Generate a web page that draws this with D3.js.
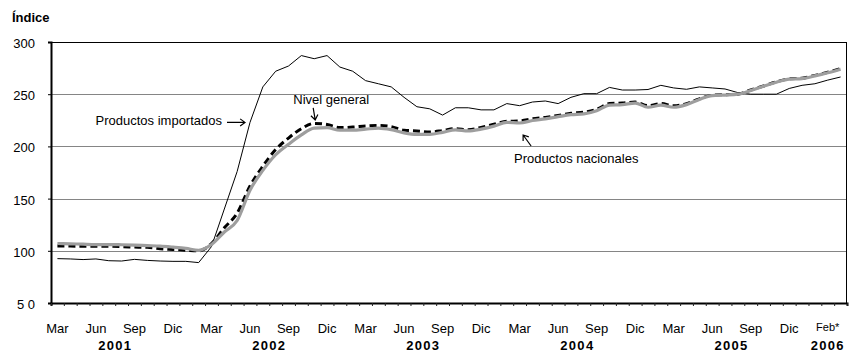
<!DOCTYPE html>
<html>
<head>
<meta charset="utf-8">
<script src="https://cdn.jsdelivr.net/npm/d3@7"></script>
<style>
  html, body { margin: 0; padding: 0; background: #fff; }
  svg { display: block; font-family: "Liberation Sans", Arial, sans-serif; }
</style>
</head>
<body>
<svg id="chart" width="849" height="354"></svg>
<script>
// Monthly observations (62 points)
const months = d3.range(62);

// Índice de precios: productos importados
const importados = [
  92.5, 92.2, 91.6, 92.2, 90.5, 90.2, 91.8, 90.8, 90.2, 89.9, 89.9, 88.7,
  104, 140, 176, 223, 257, 272, 277, 287, 284, 287, 276, 272,
  263, 260, 257, 247, 238, 236, 230, 237, 237, 235, 235, 241,
  239, 242.5, 243.5, 241, 247, 250.5, 250.5, 256.5, 254, 254, 254.5, 258.5,
  256, 254.7, 257, 256, 255, 251.5, 250, 250, 250, 255.5, 258.5, 260,
  263.5, 266.5
];

// Índice de precios: nivel general
const nivelGeneral = [
  104.6, 104.5, 104.4, 104.3, 104.3, 104, 103.6, 103.3, 102, 101.3, 100.6, 99.9,
  107, 122, 136, 162, 181, 197, 208, 217, 222, 221, 218, 218.5,
  219.5, 220, 219, 215.5, 214.8, 213.8, 215.2, 217, 216, 218.2, 221.2, 224,
  224.4, 226.4, 227.8, 229.6, 231.7, 232.8, 235.5, 241, 241.5, 242.5, 239, 241,
  239, 241, 245.5, 249, 249.5, 250, 254, 257.8, 261.8, 264.7, 265.3, 268,
  271, 274.5
];

// Índice de precios: productos nacionales
const nacionales = [
  107, 106.7, 106.3, 106, 106, 105.8, 105.5, 105, 104.5, 103.5, 102.3, 100.5,
  106, 118, 129, 158, 177, 192, 202, 211, 217.5, 218, 215.5, 215.5,
  216.5, 217.5, 216, 213, 211.5, 211.6, 213.5, 215.8, 214.8, 216.6, 219.4, 223,
  222.4, 224.8, 226.4, 228.5, 230.4, 231.2, 234.2, 239.5, 240, 241.5, 237.5, 239.5,
  237.5, 240, 245, 248.7, 249.2, 250, 253.5, 257.6, 261.5, 264.5, 265, 267.5,
  270.5, 274
];

// Axis labels
const yTicks = [50, 100, 150, 200, 250, 300];
const yTickLabels = ["5 0", "100", "150", "200", "250", "300"];
const tickMonths = [
  "Mar", "Jun", "Sep", "Dic",
  "Mar", "Jun", "Sep", "Dic",
  "Mar", "Jun", "Sep", "Dic",
  "Mar", "Jun", "Sep", "Dic",
  "Mar", "Jun", "Sep", "Dic",
  "Feb*"
];
const tickYears = [
  "2001", "2001", "2001", "2001",
  "2002", "2002", "2002", "2002",
  "2003", "2003", "2003", "2003",
  "2004", "2004", "2004", "2004",
  "2005", "2005", "2005", "2005",
  "2006"
];
const yearLabels = ["2001", "2002", "2003", "2004", "2005", "2006"];

// ---- layout ----
const plotLeft = 51, plotRight = 847, plotTop = 42, plotBottom = 303;
const svg = d3.select("#chart");

const x = d3.scaleBand().domain(months).range([plotLeft, plotRight]).padding(0);
const cx = i => x(i) + x.bandwidth() / 2;
const xEdge = d3.scaleLinear().domain([0, months.length]).range([plotLeft, plotRight]);
const y = d3.scaleLinear().domain([50, 300]).range([plotBottom, plotTop]);

// horizontal gridlines
svg.append("g")
  .selectAll("line")
  .data(yTicks.filter(v => v > 50 && v < 300))
  .join("line")
  .attr("x1", plotLeft).attr("x2", plotRight)
  .attr("y1", d => Math.round(y(d)) + 0.5).attr("y2", d => Math.round(y(d)) + 0.5)
  .attr("stroke", "#858585").attr("stroke-width", 1);

// plot frame: top and right
svg.append("line")
  .attr("x1", plotLeft).attr("x2", plotRight)
  .attr("y1", Math.round(y(300)) + 0.5).attr("y2", Math.round(y(300)) + 0.5)
  .attr("stroke", "#000").attr("stroke-width", 1);
svg.append("line")
  .attr("x1", plotRight - 0.5).attr("x2", plotRight - 0.5)
  .attr("y1", y(300)).attr("y2", plotBottom)
  .attr("stroke", "#000").attr("stroke-width", 1);

// y axis
const yAxis = svg.append("g")
  .attr("transform", `translate(${plotLeft},0)`)
  .call(d3.axisLeft(y).tickValues(yTicks).tickSize(3).tickPadding(13)
    .tickFormat((d, i) => yTickLabels[i]));
yAxis.select(".domain").attr("stroke", "#000").attr("stroke-width", 2);
yAxis.selectAll(".tick line").attr("stroke", "#000");
yAxis.selectAll(".tick text")
  .attr("font-size", 13).attr("fill", "#000")
  .attr("font-family", "'Liberation Sans', Arial, sans-serif")
  .attr("dy", "0.42em");

// x axis (tick marks between months)
const xAxis = svg.append("g")
  .attr("transform", `translate(0,${plotBottom})`)
  .call(d3.axisBottom(xEdge).tickValues(d3.range(months.length + 1))
    .tickSize(3).tickFormat(""));
xAxis.select(".domain").attr("stroke", "#000").attr("stroke-width", 2);
xAxis.selectAll(".tick line").attr("stroke", "#222");

// month labels, every third month
const monthIdx = tickMonths.map((m, k) => k * 3);
svg.append("g")
  .selectAll("text")
  .data(tickMonths)
  .join("text")
  .attr("x", (d, k) => cx(monthIdx[k]))
  .attr("y", d => d.endsWith("*") ? 331 : 333)
  .attr("text-anchor", "middle")
  .attr("font-size", d => d.endsWith("*") ? 11 : 13)
  .attr("fill", "#000")
  .text(d => d);

// year labels, centred under that year's month labels
svg.append("g")
  .selectAll("text")
  .data(yearLabels)
  .join("text")
  .attr("x", yr => d3.mean(monthIdx.filter((m, k) => tickYears[k] === yr), m => cx(m)))
  .attr("y", 350)
  .attr("text-anchor", "middle")
  .attr("font-size", 13)
  .attr("font-weight", "bold")
  .attr("letter-spacing", "1.3px")
  .attr("fill", "#000")
  .text(d => d);

// axis title
svg.append("text")
  .attr("x", 12).attr("y", 22)
  .attr("font-size", 13).attr("font-weight", "bold")
  .attr("fill", "#000")
  .text("Índice");

// ---- series ----
const smooth = d3.line().x((d, i) => cx(i)).y(d => y(d)).curve(d3.curveMonotoneX);
const straight = d3.line().x((d, i) => cx(i)).y(d => y(d));

svg.append("path")
  .datum(importados)
  .attr("d", straight)
  .attr("fill", "none").attr("stroke", "#000").attr("stroke-width", 1);

svg.append("path")
  .datum(nivelGeneral)
  .attr("d", smooth)
  .attr("fill", "none").attr("stroke", "#000").attr("stroke-width", 3)
  .attr("stroke-dasharray", "7,4");

svg.append("path")
  .datum(nacionales)
  .attr("d", smooth)
  .attr("fill", "none").attr("stroke", "#9e9e9e").attr("stroke-width", 3.2)
  .attr("stroke-linejoin", "round");

// ---- annotations ----
function arrow(x1, y1, x2, y2) {
  const a = Math.atan2(y2 - y1, x2 - x1), h = 6, s = Math.PI / 5;
  const p = d3.path();
  p.moveTo(x1, y1); p.lineTo(x2, y2);
  p.moveTo(x2 - h * Math.cos(a - s), y2 - h * Math.sin(a - s));
  p.lineTo(x2, y2);
  p.lineTo(x2 - h * Math.cos(a + s), y2 - h * Math.sin(a + s));
  svg.append("path").attr("d", p.toString())
    .attr("fill", "none").attr("stroke", "#000").attr("stroke-width", 1.2);
}

// Productos importados
{
  const tx = cx(15) - 5, ty = y(importados[15]);
  arrow(tx - 18, ty, tx, ty);
  svg.append("text").attr("x", tx - 23).attr("y", ty + 2.5)
    .attr("text-anchor", "end").attr("font-size", 13).attr("fill", "#000")
    .text("Productos importados");
}
// Nivel general
{
  const tx = cx(20) + 1, ty = y(nivelGeneral[20]) - 3.5;
  arrow(tx - 2, ty - 12, tx, ty);
  svg.append("text").attr("x", tx + 16).attr("y", ty - 16)
    .attr("text-anchor", "middle").attr("font-size", 13).attr("fill", "#000")
    .text("Nivel general");
}
// Productos nacionales
{
  const tx = cx(36) + 3.5, ty = y(nacionales[36]) + 12;
  arrow(tx + 8, ty + 11, tx, ty);
  svg.append("text").attr("x", tx - 9).attr("y", ty + 28)
    .attr("text-anchor", "start").attr("font-size", 13).attr("fill", "#000")
    .text("Productos nacionales");
}
</script>
</body>
</html>
